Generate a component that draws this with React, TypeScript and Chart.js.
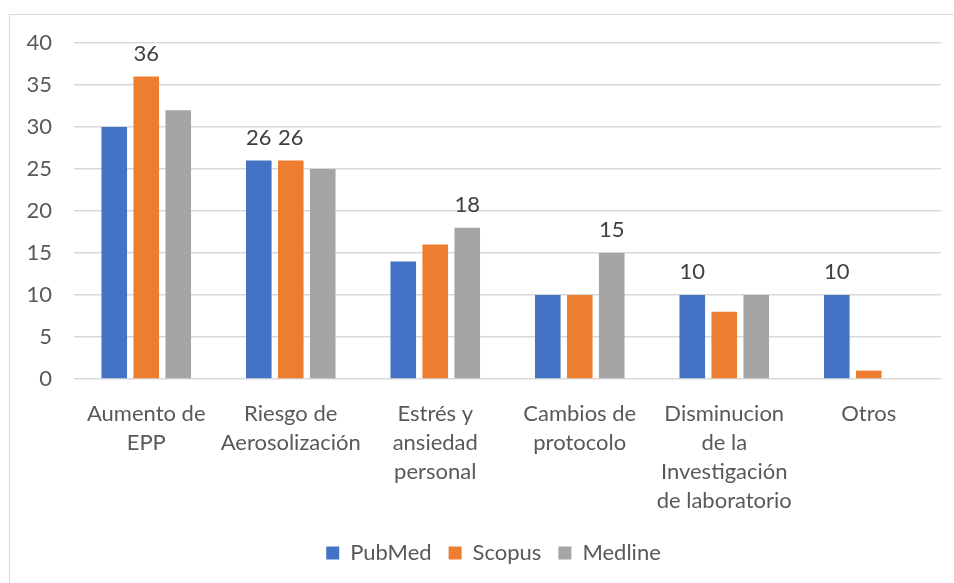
import React, { useEffect, useRef } from "react";
import { Chart, registerables } from "chart.js";

Chart.register(...registerables);

const categories: string[][] = [
  ["Aumento de", "EPP"],
  ["Riesgo de", "Aerosolización"],
  ["Estrés y", "ansiedad", "personal"],
  ["Cambios de", "protocolo"],
  ["Disminucion", "de la", "Investigación", "de laboratorio"],
  ["Otros"],
];

const pubmed = [30, 26, 14, 10, 10, 10];
const scopus = [36, 26, 16, 10, 8, 1];
const medline = [32, 25, 18, 15, 10, 0];

// which bars carry a value label
const pubmedLabels = [false, true, false, false, true, true];
const scopusLabels = [true, true, false, false, false, false];
const medlineLabels = [false, false, true, true, false, false];

const yMin = 0;
const yMax = 40;
const yStep = 5;

const FONT = "Lato";
const TICK_COLOR = "#595959";
const GRID_COLOR = "#d9d9d9";

const valueLabelPlugin = {
  id: "valueLabels",
  afterDatasetsDraw(chart: any) {
    const ctx = chart.ctx;
    const flags = [pubmedLabels, scopusLabels, medlineLabels];
    ctx.save();
    ctx.font = `22px ${FONT}`;
    ctx.fillStyle = "#404040";
    ctx.textAlign = "center";
    ctx.textBaseline = "alphabetic";
    chart.data.datasets.forEach((ds: any, di: number) => {
      const meta = chart.getDatasetMeta(di);
      meta.data.forEach((el: any, i: number) => {
        if (flags[di] && flags[di][i]) {
          ctx.fillText(String(ds.data[i]), el.x, el.y - 16);
        }
      });
    });
    ctx.restore();
  },
};

const legendShiftPlugin = {
  id: "legendShift",
  afterLayout(chart: any) {
    if (chart.legend) {
      chart.legend.left -= 14;
      chart.legend.right -= 14;
    }
  },
};

export default function App() {
  const ref = useRef<HTMLCanvasElement | null>(null);

  useEffect(() => {
    if (!ref.current) return;
    const chart = new Chart(ref.current, {
      type: "bar",
      data: {
        labels: categories,
        datasets: [
          { label: "PubMed", data: pubmed, backgroundColor: "#4472c4" },
          { label: "Scopus", data: scopus, backgroundColor: "#ed7d31" },
          { label: "Medline", data: medline, backgroundColor: "#a5a5a5" },
        ],
      },
      options: {
        responsive: false,
        animation: false,
        datasets: {
          bar: { categoryPercentage: 0.664, barPercentage: 0.8 },
        },
        layout: { padding: { left: 0, right: 13, top: 28, bottom: 9 } },
        plugins: {
          tooltip: { enabled: false },
          legend: {
            position: "bottom",
            fullSize: false,
            labels: {
              boxWidth: 13,
              boxHeight: 13,
              padding: 17,
              color: TICK_COLOR,
              font: { family: FONT, size: 22 },
            },
          },
        },
        scales: {
          x: {
            grid: { display: false },
            border: { display: false },
            ticks: {
              color: TICK_COLOR,
              font: { family: FONT, size: 22, lineHeight: 1.32 },
              maxRotation: 0,
              autoSkip: false,
              padding: 12,
            },
            afterFit(scale: any) {
              scale.height = 146;
            },
          },
          y: {
            min: yMin,
            max: yMax,
            border: { display: false },
            grid: { color: GRID_COLOR, lineWidth: 1.5, drawTicks: false },
            ticks: {
              stepSize: yStep,
              color: TICK_COLOR,
              font: { family: FONT, size: 22, lineHeight: 0.5 },
              padding: 22,
            },
            afterFit(scale: any) {
              scale.width = 64;
            },
          },
        },
      },
      plugins: [valueLabelPlugin, legendShiftPlugin],
    });
    return () => chart.destroy();
  }, []);

  return (
    <div
      style={{
        position: "absolute",
        left: 9,
        top: 14,
        width: 944,
        height: 568,
        borderLeft: "1px solid #d9d9d9",
        borderTop: "1px solid #d9d9d9",
        background: "#fff",
      }}
    >
      <canvas ref={ref} width={944} height={568} style={{ display: "block" }} />
    </div>
  );
}
